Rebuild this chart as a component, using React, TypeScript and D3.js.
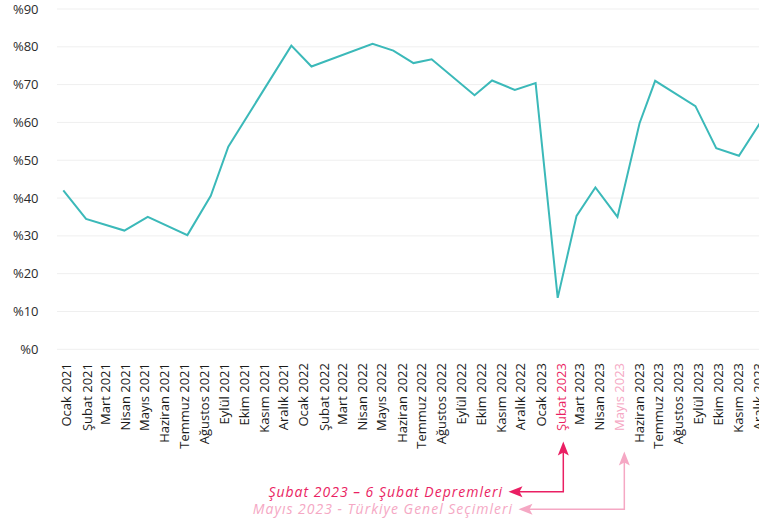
import React from 'react';
import * as d3 from 'd3';

// aylık etiketler (x ekseni)
const monthLabels = [
  'Ocak 2021', 'Şubat 2021', 'Mart 2021', 'Nisan 2021', 'Mayıs 2021', 'Haziran 2021',
  'Temmuz 2021', 'Ağustos 2021', 'Eylül 2021', 'Ekim 2021', 'Kasım 2021', 'Aralık 2021',
  'Ocak 2022', 'Şubat 2022', 'Mart 2022', 'Nisan 2022', 'Mayıs 2022', 'Haziran 2022',
  'Temmuz 2022', 'Ağustos 2022', 'Eylül 2022', 'Ekim 2022', 'Kasım 2022', 'Aralık 2022',
  'Ocak 2023', 'Şubat 2023', 'Mart 2023', 'Nisan 2023', 'Mayıs 2023', 'Haziran 2023',
  'Temmuz 2023', 'Ağustos 2023', 'Eylül 2023', 'Ekim 2023', 'Kasım 2023', 'Aralık 2023',
];

// ölçüm tarihleri ve değerleri (%)
const surveyDates = [
  '2021-01-01', '2021-02-05', '2021-04-05', '2021-05-11', '2021-07-11', '2021-08-16',
  '2021-09-12', '2021-12-18', '2022-01-18', '2022-04-22', '2022-05-24', '2022-06-24',
  '2022-07-22', '2022-09-26', '2022-10-23', '2022-11-27', '2022-12-29', '2023-02-01',
  '2023-03-02', '2023-03-31', '2023-05-04', '2023-06-07', '2023-07-01', '2023-09-01',
  '2023-10-03', '2023-11-07', '2023-12-10',
];
const surveyValues = [
  42, 34.5, 31.4, 35, 30.2, 40.6,
  53.6, 80.3, 74.8, 80.8, 79.0, 75.7,
  76.7, 67.2, 71.1, 68.6, 70.4, 13.6,
  35.3, 42.8, 35.0, 59.8, 71.0, 64.3,
  53.2, 51.2, 60,
];

const yTicks = [0, 10, 20, 30, 40, 50, 60, 70, 80, 90];

const highlights = [
  { month: 'Şubat 2023', text: 'Şubat 2023 – 6 Şubat Depremleri', color: '#ea1f63' },
  { month: 'Mayıs 2023', text: 'Mayıs 2023 - Türkiye Genel Seçimleri', color: '#f5a8c4' },
];

const W = 759;
const H = 520;
const FONT = '"Open Sans", sans-serif';

export default function App() {
  const parse = d3.timeParse('%Y-%m-%d');
  const points = surveyDates.map((d, i) => ({ date: parse(d) as Date, value: surveyValues[i] }));
  const monthDates = monthLabels.map((_, i) => new Date(2021, i, 1));

  const x = d3.scaleTime()
    .domain([new Date(2021, 0, 1), new Date(2023, 1, 1)])
    .range([63.3, 557.7]);
  const y = d3.scaleLinear().domain([0, 90]).range([349.3, 9]);

  const line = d3.line<{ date: Date; value: number }>()
    .x(d => x(d.date))
    .y(d => y(d.value));

  const labelColor = (label: string) => {
    const h = highlights.find(h => h.month === label);
    return h ? h.color : '#1a1a1a';
  };

  // annotation layout
  const annot = [
    { dx: 5.6, tipY: 441.5, elbowY: 491.7, textEnd: 503, baseY: 496.5 },
    { dx: 8.8, tipY: 451.5, elbowY: 509.3, textEnd: 513, baseY: 514 },
  ];

  return (
    <svg width={W} height={H} style={{ position: 'absolute', left: 0, top: 0, background: '#fff' }}>
      {yTicks.map(t => (
        <g key={t}>
          <line x1={57} x2={W} y1={y(t)} y2={y(t)} stroke="#efefef" strokeWidth={1} />
          <text x={38.5} y={y(t)} dy="0.35em" textAnchor="end" fontFamily={FONT} fontSize={13} fill="#2b2b2b">
            %{t}
          </text>
        </g>
      ))}

      <path d={line(points) || ''} fill="none" stroke="#3bb9b9" strokeWidth={2} strokeLinejoin="miter" />

      {monthLabels.map((m, i) => (
        <text
          key={m}
          transform={`translate(${x(monthDates[i]) + 3.5},363) rotate(-90)`}
          dy="0.35em"
          textAnchor="end"
          fontFamily={FONT}
          fontSize={13}
          fill={labelColor(m)}
        >
          {m}
        </text>
      ))}

      {highlights.map((h, i) => {
        const a = annot[i];
        const idx = monthLabels.indexOf(h.month);
        const vx = x(monthDates[idx]) + a.dx;
        const leftTip = a.textEnd + 5.5;
        return (
          <g key={h.month}>
            <path d={`M${vx},${a.tipY + 8} V${a.elbowY} H${leftTip + 8}`} fill="none" stroke={h.color} strokeWidth={1.5} />
            <path
              d={`M${vx},${a.tipY} L${vx + 5.5},${a.tipY + 14} L${vx},${a.tipY + 11} L${vx - 5.5},${a.tipY + 14} Z`}
              fill={h.color}
            />
            <path
              d={`M${leftTip},${a.elbowY} L${leftTip + 14},${a.elbowY - 5.5} L${leftTip + 11},${a.elbowY} L${leftTip + 14},${a.elbowY + 5.5} Z`}
              fill={h.color}
            />
            <text x={a.textEnd} y={a.baseY} textAnchor="end" fontFamily={FONT} fontStyle="italic" fontSize={14} letterSpacing={1} fill={h.color}>
              {h.text}
            </text>
          </g>
        );
      })}
    </svg>
  );
}
